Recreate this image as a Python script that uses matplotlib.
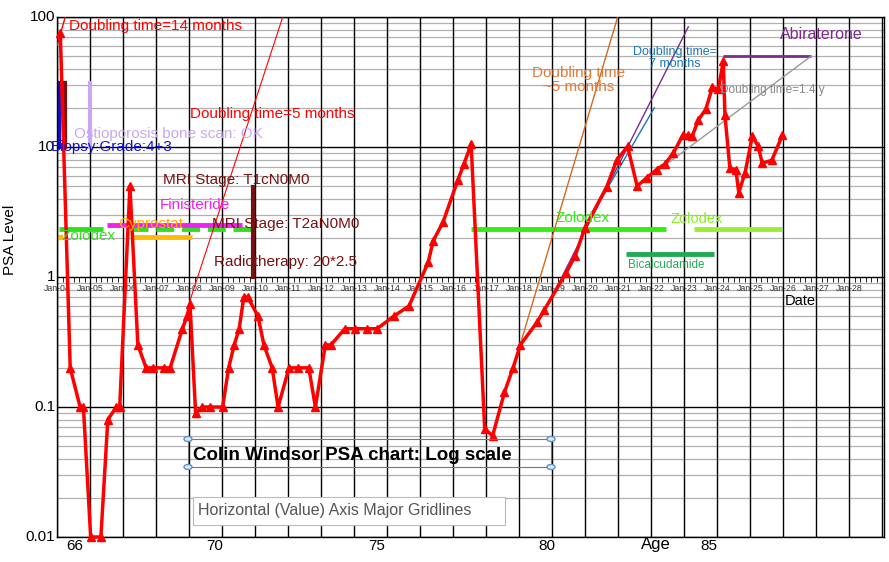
import matplotlib
matplotlib.use("Agg")
import matplotlib.pyplot as plt
from matplotlib.patches import Rectangle, Circle
import numpy as np

plt.rcParams["font.family"] = ["Liberation Sans", "DejaVu Sans"]

# ---- PSA readings (decimal year, ng/ml) ----
YEAR = [2004.10, 2004.40, 2004.70, 2004.80, 2005.02, 2005.33, 2005.54, 2005.80, 2005.90,
        2006.21, 2006.45, 2006.70, 2006.90, 2007.25, 2007.43, 2007.80, 2007.94, 2008.03,
        2008.20, 2008.39, 2008.63, 2009.02, 2009.20, 2009.37, 2009.52, 2009.66, 2009.78,
        2010.09, 2010.27, 2010.52, 2010.70, 2011.03, 2011.29, 2011.63, 2011.83, 2012.13,
        2012.30, 2012.72, 2013.03, 2013.40, 2013.70, 2014.21, 2014.67, 2015.25, 2015.40,
        2015.70, 2016.15, 2016.33, 2016.55, 2016.96, 2017.20, 2017.56, 2017.82, 2018.04,
        2018.55, 2018.77, 2019.42, 2019.70, 2020.00, 2020.66, 2020.96, 2021.29, 2021.58,
        2021.87, 2022.17, 2022.42, 2022.68, 2022.96, 2023.13, 2023.25, 2023.43, 2023.66,
        2023.86, 2024.04, 2024.19, 2024.24, 2024.39, 2024.57, 2024.66, 2024.85, 2025.07,
        2025.25, 2025.37, 2025.66, 2025.98]
PSA = [75, 0.2, 0.1, 0.1, 0.01, 0.01, 0.08, 0.1, 0.1,
       5, 0.3, 0.2, 0.2, 0.2, 0.2, 0.4, 0.5, 0.62,
       0.09, 0.1, 0.1, 0.1, 0.2, 0.3, 0.4, 0.7, 0.7,
       0.5, 0.3, 0.2, 0.1, 0.2, 0.2, 0.2, 0.1, 0.3,
       0.3, 0.4, 0.4, 0.4, 0.4, 0.5, 0.6, 1.3, 1.9,
       2.65, 5.6, 7.4, 10.5, 0.068, 0.06, 0.13, 0.2, 0.3,
       0.45, 0.56, 1.07, 1.45, 2.4, 4.95, 7.9, 10.1, 5.0,
       5.8, 6.7, 7.4, 9.0, 12.3, 12.3, 12.1, 16.1, 19.5,
       28.8, 27.8, 45.7, 17.6, 6.85, 6.7, 4.45, 6.35, 12.1,
       10.1, 7.5, 7.9, 12.3]

# doubling-time fit lines (x pair, y pair)
DT14_X, DT14_Y = [2004.0, 2004.25], [60, 100]
DT5_X, DT5_Y = [2008.03, 2010.84], [0.66, 100]
DT5B_X, DT5B_Y = [2018.08, 2020.99], [0.33, 100]
DT7_X, DT7_Y = [2019.9, 2022.1], [2.2, 20]
DT7P_X, DT7P_Y = [2018.94, 2023.13], [0.66, 84]
DT14Y_X, DT14Y_Y = [2021.58, 2026.85], [5.0, 50]

# treatment bars: (x0, x1, level, colour, style)
BARS = [
    (2004.07, 2005.38, 2.33, "#33dd22", "-"),
    (2006.20, 2010.10, 2.33, "#33dd22", "--"),
    (2006.23, 2008.10, 2.03, "#ffbb00", "-"),
    (2005.52, 2009.60, 2.50, "#ee22ee", "-"),
    (2016.54, 2022.45, 2.33, "#33ee11", "-"),
    (2023.30, 2025.96, 2.33, "#99ee33", "-"),
    (2021.24, 2023.92, 1.50, "#22aa55", "-"),
    (2024.17, 2026.85, 50.0, "#7b2c8c", "-"),
]
# event markers: (x, y0, y1, colour)
EVENTS = [
    (2004.05, 10, 31, "#1111cc"),
    (2004.25, 10, 31, "#7a1010"),
    (2005.00, 10, 31, "#c8a8f0"),
    (2009.93, 1, 4.9, "#7a1010"),
]

YEARS = list(range(2004, 2030))
AGES = [66, 70, 75, 80, 85]
AGE_PX = [75, 215, 377, 547, 709]

fig = plt.figure(figsize=(8.89, 5.62), dpi=100)
ax = fig.add_axes([57/889, 1-537/562, (884-57)/889, (537-17)/562])
ax.set_yscale("log")
ax.set_xlim(2004, 2029.06)
ax.set_ylim(0.01, 100)

# grid
for d in [0.01, 0.1, 1, 10]:
    for k in range(2, 10):
        ax.axhline(d*k, color="#b0b0b0", lw=0.9, zorder=0)
for d in [0.01, 0.1, 1, 10, 100]:
    ax.axhline(d, color="black", lw=1.0, zorder=0.5)
for yr in YEARS:
    ax.axvline(yr, color="black", lw=1.0, zorder=0.5)
ax.tick_params(which="both", length=0, labelbottom=False, labelleft=False)
ax.minorticks_off()
for s in ax.spines.values():
    s.set_linewidth(1.0)

# monthly ticks on the x-axis at PSA=1
mt = np.arange(2004, 2029.01, 1/6)
ax.vlines(mt, 0.92, 1.0, color="black", lw=0.6, zorder=1)
for yr in YEARS[:-1]:
    ax.text(yr, 0.88, f"Jan-{yr % 100:02d}", fontsize=6.3, color="#333333",
            ha="center", va="top", zorder=1)
ax.text(2026.05, 0.74, "Date", fontsize=10.5, va="top")

# y tick labels
for v, lab in [(100, "100"), (10, "10"), (1, "1"), (0.1, "0.1"), (0.01, "0.01")]:
    ax.text(2003.95, v, lab, fontsize=11, ha="right", va="center")
fig.text(10/889, 1-240/562, "PSA Level", rotation=90, fontsize=11, va="center", ha="center")

# bars and events
for x0, x1, lvl, c, ls in BARS:
    ax.plot([x0, x1], [lvl, lvl], color=c, lw=3.5 if c != "#7b2c8c" else 2, ls=ls,
            solid_capstyle="butt", zorder=2)
ax.plot([2004.1], [2.03], "s", color="#ffbb00", ms=3, zorder=2)
for x, y0, y1, c in EVENTS:
    ax.plot([x, x], [y0, y1], color=c, lw=3, zorder=2)

# fit lines
ax.plot(DT14_X, DT14_Y, color="red", lw=1, zorder=3)
ax.plot(DT5_X, DT5_Y, color="red", lw=0.8, zorder=3)
ax.plot(DT5B_X, DT5B_Y, color="#d2691e", lw=1, zorder=3)
ax.plot(DT7P_X, DT7P_Y, color="#7b2c8c", lw=1, zorder=3)
ax.plot(DT7_X, DT7_Y, color="#1f77b4", lw=1, zorder=3)
ax.plot(DT14Y_X, DT14Y_Y, color="#999999", lw=1, zorder=3)

# PSA series
ax.plot(YEAR, PSA, color="red", lw=2.5, marker="^", ms=6, zorder=4, clip_on=False)

# annotations
def T(x, y, s, c, fs=11, **kw):
    ax.text(x, y, s, color=c, fontsize=fs, zorder=5, **kw)
T(2004.35, 85, "Doubling time=14 months", "red", va="center")
T(2008.03, 18, "Doubling time=5 months", "red", va="center")
T(2004.5, 12.7, "Ostioporosis bone scan: OK", "#c8a8f0", va="center")
T(2003.8, 10, "Biopsy:Grade:4+3", "#1111cc", va="center")
T(2007.2, 5.6, "MRI Stage: T1cN0M0", "#7a1010", va="center")
T(2007.1, 3.6, "Finisteride", "#ee22ee", va="center")
T(2005.85, 2.55, "Cyprostat", "#ffaa00", va="center")
T(2008.7, 2.55, "MRI Stage: T2aN0M0", "#7a1010", va="center")
T(2004.15, 2.05, "Zolodex", "#33dd22", va="center")
T(2008.75, 1.31, "Radiotherapy: 20*2.5", "#7a1010", va="center")
T(2019.8, 33, "Doubling time\n~5 months", "#e07b39", ha="center", va="center",
  linespacing=1.0)
T(2022.73, 48, "Doubling time=\n7 months", "#1f77b4", fs=9, ha="center", va="center",
  linespacing=1.0)
T(2024.1, 27.5, "Doubling time=1.4 y", "#888888", fs=8.5, va="center")
T(2025.9, 73, "Abiraterone", "#7b2c8c", fs=11.5, va="center")
T(2019.1, 2.85, "Zolodex", "#33ee11", va="center")
T(2022.6, 2.8, "Zolodex", "#88ee22", fs=10.5, va="center")
T(2021.3, 1.24, "Bicalcudamide", "#22aa55", fs=8.5, va="center")

# title box with selection handles
fig.text(193/889, 1-455/562, "Colin Windsor PSA chart: Log scale", fontsize=13.5,
         fontweight="bold", va="center", zorder=10)
fig.patches.append(Rectangle((188/889, 1-467/562), 363/889, 28/562, fill=False,
                             ec="#777777", lw=0.8, transform=fig.transFigure))
for px, py in [(188, 439), (551, 439), (188, 467), (551, 467)]:
    fig.patches.append(Circle((px/889, 1-py/562), 0.0045, fc="#dde9f7", ec="#5b8fd0",
                              lw=1, transform=fig.transFigure))

# tooltip
fig.patches.append(Rectangle((193/889, 1-525/562), 312/889, 28/562, fc="white",
                             ec="#bbbbbb", lw=0.8, transform=fig.transFigure, zorder=9))
fig.text(198/889, 1-511/562, "Horizontal (Value) Axis Major Gridlines", fontsize=11.5,
         color="#555555", va="center", zorder=10)

# age labels
for a, px in zip(AGES, AGE_PX):
    fig.text(px/889, 1-546/562, str(a), fontsize=11, ha="center", va="center")
fig.text(656/889, 1-544/562, "Age", fontsize=12, ha="center", va="center")

fig.savefig("out.png", dpi=100)
